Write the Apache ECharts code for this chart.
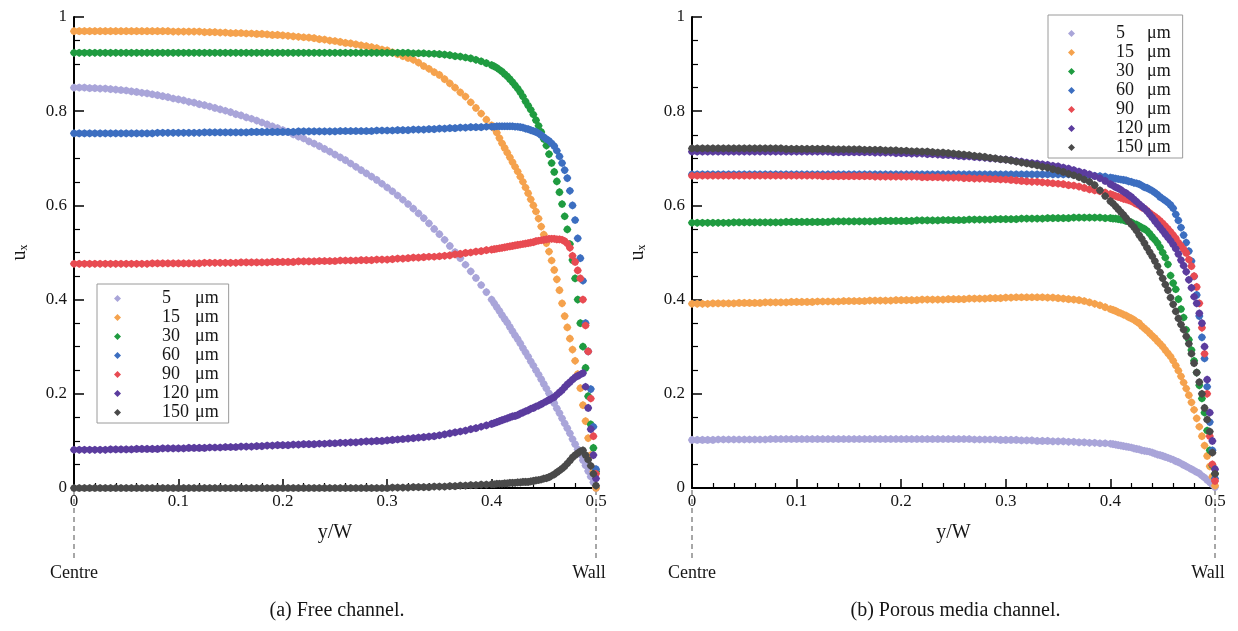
<!DOCTYPE html>
<html>
<head>
<meta charset="utf-8">
<title>Velocity profiles across the channel</title>
<script src="https://cdn.jsdelivr.net/npm/echarts@6/dist/echarts.min.js"></script>
<style>
  html, body { margin: 0; padding: 0; background: #ffffff; }
  #main { width: 1238px; height: 631px; }
</style>
</head>
<body>
<div id="main"></div>
<script>
// Sample positions across the half-width, y/W (centre = 0, wall = 0.5)
const X = [
  0,0.005,0.01,0.015,0.02,0.025,0.03,0.035,0.04,0.045,
  0.05,0.055,0.06,0.065,0.07,0.075,0.08,0.085,0.09,0.095,
  0.1,0.105,0.11,0.115,0.12,0.125,0.13,0.135,0.14,0.145,
  0.15,0.155,0.16,0.165,0.17,0.175,0.18,0.185,0.19,0.195,
  0.2,0.205,0.21,0.215,0.22,0.225,0.23,0.235,0.24,0.245,
  0.25,0.255,0.26,0.265,0.27,0.275,0.28,0.285,0.29,0.295,
  0.3,0.305,0.31,0.315,0.32,0.325,0.33,0.335,0.34,0.345,
  0.35,0.355,0.36,0.365,0.37,0.375,0.38,0.385,0.39,0.395,
  0.4,
  0.4025,0.405,0.4075,0.41,0.4125,0.415,0.4175,0.42,0.4225,0.425,
  0.4275,0.43,0.4325,0.435,0.4375,0.44,0.4425,0.445,0.4475,0.45,
  0.4525,0.455,0.4575,0.46,0.4625,0.465,0.4675,0.47,0.4725,0.475,
  0.4775,0.48,0.4825,0.485,0.4875,0.49,0.4925,0.495,0.4975,0.5
];

// Particle sizes (legend entries) and their colours
const SIZES = ['5', '15', '30', '60', '90', '120', '150'];
const UNIT = 'μm';
const COLORS = ['#a9a5d9', '#f5a24d', '#1f9b40', '#3c6ec0', '#e84b52', '#5b3c9e', '#4a4a4a'];

// ---- (a) Free channel: u_x against y/W ----
const FREE_5 = [
  .850,.850,.850,.849,.849,.848,.848,.847,.846,.845,
  .844,.842,.841,.839,.838,.836,.834,.832,.830,.827,
  .825,.823,.820,.818,.815,.813,.810,.807,.804,.801,
  .798,.794,.791,.787,.784,.780,.776,.772,.768,.764,
  .760,.756,.751,.746,.742,.736,.731,.726,.720,.714,
  .708,.702,.696,.689,.682,.675,.668,.661,.654,.646,
  .638,.630,.621,.612,.603,.593,.583,.573,.562,.550,
  .539,.527,.514,.501,.488,.474,.460,.446,.431,.416,
  .400,
  .392,.384,.376,.367,.359,.351,.342,.333,.324,.316,
  .307,.297,.288,.279,.269,.260,.250,.241,.231,.221,
  .211,.201,.190,.180,.169,.159,.148,.137,.127,.116,
  .104,.093,.082,.071,.059,.048,.036,.024,.012,.000
];
const FREE_15 = [
  .970,.970,.970,.970,.970,.970,.970,.970,.970,.970,
  .970,.970,.970,.970,.970,.970,.970,.970,.970,.969,
  .969,.969,.969,.969,.969,.968,.968,.968,.967,.967,
  .966,.966,.966,.965,.965,.964,.964,.963,.962,.962,
  .961,.960,.959,.958,.957,.956,.955,.953,.952,.950,
  .949,.947,.945,.944,.942,.940,.938,.936,.934,.931,
  .929,.925,.921,.917,.913,.909,.903,.896,.890,.883,
  .877,.868,.859,.850,.840,.831,.819,.807,.795,.782,
  .770,
  .764,.754,.743,.732,.722,.712,.702,.692,.682,.672,
  .661,.650,.638,.626,.613,.600,.587,.572,.555,.538,
  .520,.502,.483,.463,.443,.420,.392,.365,.341,.317,
  .294,.270,.242,.212,.176,.142,.106,.070,.035,.000
];
const FREE_30 = [
  .924,.924,.924,.924,.924,.924,.924,.924,.924,.924,
  .924,.924,.924,.924,.924,.924,.924,.924,.924,.924,
  .924,.924,.924,.924,.924,.924,.924,.924,.924,.924,
  .924,.924,.924,.924,.924,.924,.924,.924,.924,.924,
  .924,.924,.924,.924,.924,.924,.924,.924,.924,.924,
  .924,.924,.924,.924,.924,.924,.924,.924,.924,.924,
  .924,.924,.924,.924,.924,.923,.923,.923,.922,.922,
  .921,.920,.919,.917,.916,.914,.912,.909,.906,.902,
  .898,
  .895,.892,.888,.884,.879,.874,.868,.862,.855,.848,
  .840,.831,.821,.812,.803,.793,.781,.769,.756,.741,
  .727,.709,.690,.671,.651,.628,.603,.577,.549,.518,
  .484,.445,.400,.350,.300,.255,.195,.135,.085,.035
];
const FREE_60 = [
  .753,.753,.753,.753,.753,.753,.753,.753,.753,.753,
  .753,.753,.753,.753,.753,.753,.754,.754,.754,.754,
  .754,.754,.754,.754,.754,.755,.755,.755,.755,.755,
  .755,.755,.755,.755,.756,.756,.756,.756,.756,.756,
  .756,.756,.756,.757,.757,.757,.757,.757,.757,.757,
  .757,.758,.758,.758,.758,.758,.758,.758,.759,.759,
  .759,.759,.760,.760,.760,.761,.761,.761,.762,.762,
  .763,.763,.764,.764,.765,.765,.766,.766,.766,.767,
  .767,
  .767,.768,.768,.768,.768,.768,.768,.768,.767,.767,
  .766,.765,.763,.762,.760,.758,.756,.753,.749,.745,
  .741,.737,.732,.726,.716,.704,.690,.675,.658,.631,
  .600,.569,.530,.488,.440,.350,.290,.210,.130,.040
];
const FREE_90 = [
  .476,.476,.476,.476,.476,.476,.476,.476,.476,.476,
  .476,.476,.476,.476,.476,.477,.477,.477,.477,.477,
  .477,.477,.477,.477,.477,.478,.478,.478,.478,.478,
  .478,.478,.479,.479,.479,.479,.479,.479,.480,.480,
  .480,.480,.480,.481,.481,.481,.481,.482,.482,.482,
  .482,.483,.483,.483,.483,.484,.484,.484,.485,.485,
  .485,.486,.487,.487,.488,.489,.489,.490,.491,.491,
  .492,.493,.494,.496,.497,.499,.500,.502,.503,.505,
  .506,
  .507,.508,.509,.510,.511,.512,.513,.514,.515,.516,
  .517,.518,.519,.520,.521,.522,.524,.525,.526,.527,
  .528,.529,.529,.529,.528,.528,.527,.524,.519,.510,
  .493,.480,.462,.445,.400,.345,.290,.190,.110,.030
];
const FREE_120 = [
  .081,.081,.081,.081,.081,.081,.081,.082,.082,.082,
  .082,.082,.083,.083,.083,.083,.083,.084,.084,.084,
  .084,.084,.085,.085,.085,.085,.086,.086,.086,.087,
  .087,.087,.088,.088,.088,.089,.089,.090,.090,.091,
  .091,.091,.092,.092,.093,.093,.093,.094,.094,.095,
  .095,.096,.096,.097,.097,.098,.099,.099,.100,.100,
  .101,.102,.103,.104,.105,.106,.107,.108,.109,.110,
  .112,.114,.116,.118,.120,.122,.125,.127,.130,.133,
  .136,
  .138,.140,.142,.144,.146,.148,.150,.152,.153,.155,
  .158,.160,.163,.165,.168,.170,.173,.175,.178,.181,
  .184,.187,.190,.193,.198,.203,.208,.214,.220,.225,
  .230,.235,.238,.241,.244,.215,.170,.125,.070,.020
];
const FREE_150 = [
  .000,.000,.000,.000,.000,.000,.000,.000,.000,.000,
  .000,.000,.000,.000,.000,.000,.000,.000,.000,.000,
  .000,.000,.000,.000,.000,.000,.000,.000,.000,.000,
  .000,.000,.000,.000,.000,.000,.000,.000,.000,.000,
  .000,.000,.000,.000,.000,.000,.000,.000,.000,.000,
  .000,.000,.000,.000,.000,.000,.000,.000,.000,.000,
  .000,.001,.001,.001,.001,.002,.002,.002,.002,.003,
  .003,.003,.004,.004,.005,.005,.006,.006,.007,.007,
  .008,
  .008,.009,.009,.009,.010,.010,.011,.011,.011,.012,
  .012,.013,.013,.013,.014,.015,.016,.017,.018,.020,
  .021,.023,.026,.029,.033,.037,.041,.046,.052,.058,
  .065,.070,.074,.078,.080,.070,.060,.047,.030,.005
];

// ---- (b) Porous media channel: u_x against y/W ----
const POROUS_5 = [
  .102,.102,.102,.102,.102,.103,.103,.103,.103,.103,
  .103,.103,.103,.103,.103,.104,.104,.104,.104,.104,
  .104,.104,.104,.104,.104,.104,.104,.104,.104,.104,
  .104,.104,.104,.104,.104,.104,.104,.104,.104,.104,
  .104,.104,.104,.104,.104,.104,.104,.104,.104,.104,
  .104,.104,.104,.104,.103,.103,.103,.103,.103,.102,
  .102,.102,.102,.101,.101,.101,.100,.100,.100,.099,
  .099,.099,.098,.098,.097,.097,.096,.096,.095,.095,
  .094,
  .093,.092,.091,.090,.089,.088,.087,.086,.084,.083,
  .082,.080,.079,.078,.077,.075,.073,.071,.070,.068,
  .066,.064,.062,.060,.057,.055,.052,.049,.046,.043,
  .040,.037,.034,.031,.026,.022,.017,.012,.007,.002
];
const POROUS_15 = [
  .391,.391,.391,.391,.392,.392,.392,.392,.392,.393,
  .393,.393,.393,.393,.394,.394,.394,.394,.394,.395,
  .395,.395,.395,.395,.396,.396,.396,.396,.396,.397,
  .397,.397,.397,.397,.398,.398,.398,.398,.398,.399,
  .399,.399,.399,.399,.400,.400,.400,.400,.400,.401,
  .401,.401,.401,.402,.402,.402,.402,.403,.403,.403,
  .404,.404,.405,.405,.405,.405,.405,.405,.404,.404,
  .403,.402,.401,.400,.399,.397,.394,.391,.388,.384,
  .380,
  .378,.376,.373,.371,.368,.366,.363,.360,.357,.353,
  .350,.344,.339,.334,.329,.323,.318,.312,.306,.300,
  .293,.286,.279,.270,.260,.249,.237,.224,.211,.197,
  .182,.166,.148,.130,.110,.090,.068,.046,.024,.005
];
const POROUS_30 = [
  .563,.563,.563,.563,.563,.563,.563,.563,.564,.564,
  .564,.564,.564,.564,.564,.564,.564,.564,.565,.565,
  .565,.565,.565,.565,.565,.565,.565,.566,.566,.566,
  .566,.566,.566,.566,.566,.566,.567,.567,.567,.567,
  .567,.567,.567,.568,.568,.568,.568,.568,.569,.569,
  .569,.569,.569,.570,.570,.570,.570,.570,.571,.571,
  .571,.571,.571,.572,.572,.572,.572,.572,.573,.573,
  .573,.573,.573,.574,.574,.574,.574,.574,.574,.573,
  .573,
  .572,.572,.571,.570,.569,.567,.566,.564,.561,.559,
  .556,.553,.550,.546,.540,.533,.527,.520,.511,.500,
  .489,.475,.451,.435,.422,.401,.380,.362,.336,.315,
  .293,.270,.245,.218,.190,.160,.122,.080,.048,.030
];
const POROUS_60 = [
  .666,.666,.666,.666,.666,.666,.666,.666,.666,.666,
  .666,.666,.666,.666,.666,.666,.666,.666,.666,.666,
  .666,.666,.666,.666,.666,.666,.666,.666,.666,.666,
  .666,.666,.666,.666,.666,.666,.666,.666,.666,.666,
  .666,.666,.666,.666,.666,.666,.666,.666,.666,.666,
  .666,.666,.666,.666,.666,.666,.666,.666,.666,.666,
  .666,.666,.666,.666,.666,.666,.666,.666,.666,.666,
  .666,.666,.666,.665,.665,.665,.664,.663,.662,.661,
  .659,
  .658,.657,.656,.655,.654,.653,.651,.650,.648,.647,
  .645,.642,.639,.637,.634,.631,.627,.623,.618,.614,
  .610,.606,.601,.594,.581,.568,.553,.537,.521,.503,
  .482,.449,.410,.365,.320,.275,.215,.140,.080,.020
];
const POROUS_90 = [
  .663,.663,.663,.663,.663,.663,.663,.663,.663,.663,
  .663,.663,.663,.663,.663,.663,.663,.663,.663,.663,
  .663,.663,.663,.663,.663,.662,.662,.662,.662,.662,
  .662,.662,.662,.662,.662,.661,.661,.661,.661,.661,
  .661,.661,.661,.661,.660,.660,.660,.660,.659,.659,
  .659,.659,.658,.658,.657,.657,.657,.656,.656,.655,
  .655,.654,.653,.652,.651,.650,.650,.649,.648,.647,
  .646,.645,.643,.642,.640,.637,.634,.632,.630,.627,
  .624,
  .622,.620,.618,.616,.614,.613,.611,.609,.606,.603,
  .600,.596,.593,.589,.584,.580,.576,.572,.567,.562,
  .556,.550,.544,.537,.530,.521,.514,.507,.499,.485,
  .471,.450,.427,.392,.340,.285,.200,.110,.050,.015
];
const POROUS_120 = [
  .714,.714,.714,.714,.714,.714,.714,.714,.714,.714,
  .714,.714,.714,.714,.714,.714,.714,.714,.714,.714,
  .714,.714,.714,.714,.714,.714,.714,.713,.713,.713,
  .713,.713,.713,.713,.713,.712,.712,.712,.712,.711,
  .711,.711,.710,.710,.710,.709,.709,.708,.707,.707,
  .706,.705,.704,.704,.703,.702,.701,.700,.699,.698,
  .697,.696,.694,.693,.691,.690,.689,.687,.686,.684,
  .683,.680,.678,.675,.672,.669,.666,.662,.658,.652,
  .645,
  .642,.639,.636,.633,.629,.626,.622,.618,.613,.608,
  .603,.598,.593,.588,.581,.574,.567,.560,.553,.546,
  .539,.532,.525,.517,.508,.497,.484,.472,.459,.442,
  .425,.406,.392,.371,.350,.300,.230,.160,.100,.040
];
const POROUS_150 = [
  .721,.721,.721,.721,.721,.721,.721,.721,.721,.721,
  .721,.721,.721,.721,.721,.721,.721,.721,.720,.720,
  .720,.720,.720,.720,.720,.720,.720,.719,.719,.719,
  .719,.719,.719,.718,.718,.718,.718,.717,.717,.717,
  .716,.716,.715,.715,.714,.714,.713,.712,.712,.711,
  .710,.709,.708,.707,.705,.704,.703,.701,.700,.698,
  .697,.695,.693,.691,.689,.687,.685,.682,.680,.677,
  .674,.671,.667,.664,.660,.655,.650,.643,.632,.620,
  .609,
  .604,.598,.592,.586,.580,.573,.566,.560,.554,.546,
  .537,.529,.520,.510,.501,.492,.482,.471,.458,.445,
  .432,.420,.404,.390,.375,.360,.347,.336,.322,.306,
  .285,.265,.245,.225,.200,.170,.145,.120,.075,.030
];

const FREE = [FREE_5, FREE_15, FREE_30, FREE_60, FREE_90, FREE_120, FREE_150];
const POROUS = [POROUS_5, POROUS_15, POROUS_30, POROUS_60, POROUS_90, POROUS_120, POROUS_150];

const CAPTIONS = ['(a) Free channel.', '(b) Porous media channel.'];
const X_NAME = 'y/W';
const END_LABELS = ['Centre', 'Wall'];

const SERIF = "'Liberation Serif', 'DejaVu Serif', 'Times New Roman', serif";
const INK = '#161616';
// rounded diamond marker
const MARK = 'path://M0,-1Q0.8,-0.8 1,0Q0.8,0.8 0,1Q-0.8,0.8 -1,0Q-0.8,-0.8 0,-1Z';

function xAxis(gi) {
  return {
    type: 'value', gridIndex: gi, min: 0, max: 0.5, interval: 0.1,
    name: X_NAME, nameLocation: 'middle', nameGap: 35,
    nameTextStyle: { fontFamily: SERIF, fontSize: 20, color: INK },
    axisLine: { show: true, onZero: false, lineStyle: { color: '#000', width: 2 } },
    axisTick: { show: true, inside: true, length: 9, lineStyle: { color: '#000', width: 1.5 } },
    minorTick: { show: true, splitNumber: 5, length: 5, lineStyle: { color: '#000', width: 1.2 } },
    splitLine: { show: false },
    axisLabel: {
      fontFamily: SERIF, fontSize: 17, color: INK, margin: 5,
      formatter: v => String(Math.round(v * 10) / 10)
    }
  };
}
function yAxis(gi) {
  return {
    type: 'value', gridIndex: gi, min: 0, max: 1, interval: 0.2,
    name: '{u|u}{s|x}', nameLocation: 'middle', nameGap: 44, nameRotate: 90,
    nameTextStyle: {
      fontFamily: SERIF, color: INK,
      rich: {
        u: { fontFamily: SERIF, fontSize: 20, lineHeight: 20, color: INK },
        s: { fontFamily: SERIF, fontSize: 12, lineHeight: 12, verticalAlign: 'bottom', color: INK }
      }
    },
    axisLine: { show: true, onZero: false, lineStyle: { color: '#000', width: 2 } },
    axisTick: { show: true, inside: true, length: 10, lineStyle: { color: '#000', width: 1.5 } },
    minorTick: { show: true, splitNumber: 4, length: 6, lineStyle: { color: '#000', width: 1.2 } },
    splitLine: { show: false },
    axisLabel: {
      fontFamily: SERIF, fontSize: 17, color: INK, margin: 7,
      formatter: v => String(Math.round(v * 10) / 10)
    }
  };
}

function buildSeries(sets, gi) {
  return sets.map((ys, k) => ({
    type: 'scatter', name: SIZES[k], xAxisIndex: gi, yAxisIndex: gi,
    symbol: MARK, symbolSize: 8.2, clip: true, silent: true,
    itemStyle: { color: COLORS[k], opacity: 1 },
    data: X.map((x, i) => [x, ys[i]])
  }));
}

function legend(left, top, padding, numWidth) {
  return {
    orient: 'vertical', left: left, top: top, padding: padding,
    itemGap: 0, itemWidth: 7, itemHeight: 7, icon: 'diamond',
    selectedMode: false, backgroundColor: '#fff',
    borderColor: '#9a9a9a', borderWidth: 1,
    data: SIZES.map((s, k) => ({ name: s, itemStyle: { color: COLORS[k] } })),
    formatter: name => '{g|}{n|' + name + '}{u|' + UNIT + '}',
    textStyle: {
      fontFamily: SERIF, fontSize: 18, lineHeight: 19, color: INK,
      rich: {
        g: { width: 36, lineHeight: 19 },
        n: { width: numWidth, fontFamily: SERIF, fontSize: 18, lineHeight: 19, color: INK },
        u: { fontFamily: SERIF, fontSize: 18, lineHeight: 19, color: INK }
      }
    }
  };
}

const option = {
  animation: false,
  backgroundColor: '#ffffff',
  grid: [
    { left: 74, top: 17, width: 522, height: 471 },
    { left: 692, top: 17, width: 523, height: 471 }
  ],
  xAxis: [xAxis(0), xAxis(1)],
  yAxis: [yAxis(0), yAxis(1)],
  legend: [
    legend(97, 284, [5, 10, 1, 17], 33),
    legend(1048, 15, [9, 12, 1, 20], 31)
  ],
  series: buildSeries(FREE, 0).concat(buildSeries(POROUS, 1))
};

const chart = echarts.init(document.getElementById('main'));
chart.setOption(option);

// Centre / Wall markers under each axis and panel captions
const graphics = [];
[0, 1].forEach(gi => {
  const p0 = chart.convertToPixel({ gridIndex: gi }, [0, 0]);
  const p1 = chart.convertToPixel({ gridIndex: gi }, [0.5, 0]);
  const pm = chart.convertToPixel({ gridIndex: gi }, [0.25, 0]);
  [p0[0], p1[0]].forEach(px => {
    graphics.push({
      type: 'line', silent: true, z: 1,
      shape: { x1: px, y1: p0[1] + 2, x2: px, y2: p0[1] + 73 },
      style: { stroke: '#8a8a8a', lineWidth: 1.5, lineDash: [5, 4] }
    });
  });
  graphics.push({
    type: 'text', silent: true, x: p0[0], y: p0[1] + 85,
    style: { text: END_LABELS[0], font: '18px ' + SERIF, fill: INK, align: 'center', verticalAlign: 'middle' }
  });
  graphics.push({
    type: 'text', silent: true, x: p1[0] - 7, y: p0[1] + 85,
    style: { text: END_LABELS[1], font: '18px ' + SERIF, fill: INK, align: 'center', verticalAlign: 'middle' }
  });
  graphics.push({
    type: 'text', silent: true, x: pm[0] + 2, y: p0[1] + 123,
    style: { text: CAPTIONS[gi], font: '20px ' + SERIF, fill: INK, align: 'center', verticalAlign: 'middle' }
  });
});
chart.setOption({ graphic: graphics });
</script>
</body>
</html>
